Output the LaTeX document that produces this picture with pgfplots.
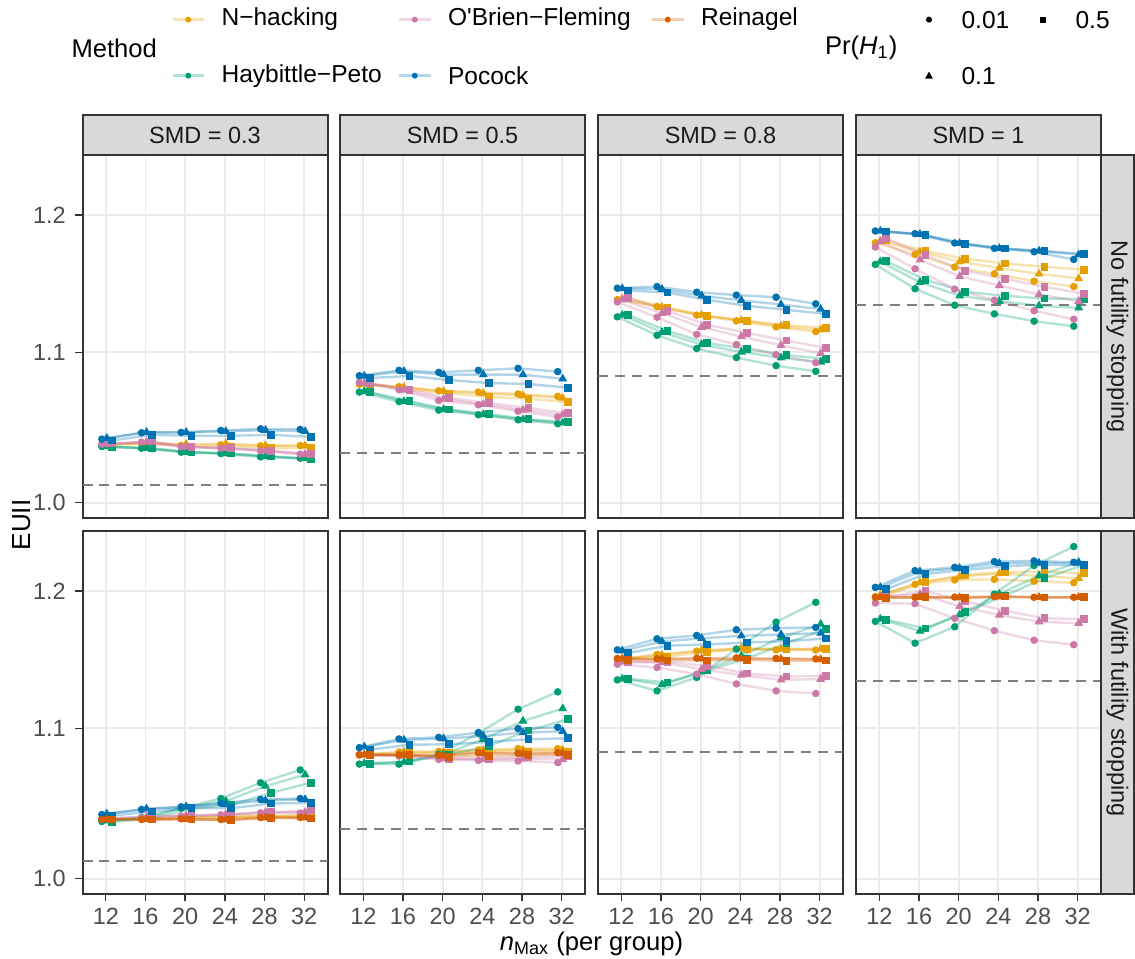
\documentclass[border=0pt]{standalone}
\usepackage{fontspec}
\setmainfont{Liberation Sans}
\usepackage{pgfplots}
\usepackage{pgfplotstable}
\pgfplotsset{compat=1.18}
\definecolor{nh}{HTML}{E69F00}
\definecolor{hp}{HTML}{009E73}
\definecolor{ob}{HTML}{CC79A7}
\definecolor{po}{HTML}{0072B2}
\definecolor{re}{HTML}{D55E00}
\definecolor{gray10}{HTML}{1A1A1A}
\definecolor{gray20}{HTML}{333333}
\definecolor{gray30}{HTML}{4D4D4D}
\definecolor{gray50}{HTML}{7F7F7F}
\definecolor{gray85}{HTML}{D9D9D9}
\definecolor{gray92}{HTML}{EBEBEB}

% ---------------- data: rows = n_Max, columns = method x Pr(H1) (c=0.01, t=0.1, s=0.5)
\pgfplotstableread{
n  NHc    NHt    NHs    HPc    HPt    HPs    OBc    OBt    OBs    POc    POt    POs
12 1.0373 1.0378 1.0373 1.0362 1.0362 1.0360 1.0378 1.0376 1.0382 1.0411 1.0417 1.0402
16 1.0382 1.0380 1.0391 1.0351 1.0351 1.0351 1.0391 1.0393 1.0395 1.0453 1.0457 1.0439
20 1.0369 1.0378 1.0360 1.0325 1.0325 1.0325 1.0360 1.0360 1.0360 1.0455 1.0457 1.0433
24 1.0373 1.0382 1.0360 1.0316 1.0316 1.0316 1.0351 1.0351 1.0351 1.0468 1.0462 1.0433
28 1.0367 1.0369 1.0351 1.0294 1.0297 1.0299 1.0334 1.0334 1.0334 1.0479 1.0470 1.0439
32 1.0369 1.0367 1.0351 1.0286 1.0283 1.0279 1.0312 1.0312 1.0314 1.0475 1.0462 1.0426
}\tA
\pgfplotstableread{
n  NHc    NHt    NHs    HPc    HPt    HPs    OBc    OBt    OBs    POc    POt    POs
12 1.0779 1.0781 1.0781 1.0726 1.0731 1.0726 1.0792 1.0790 1.0788 1.0838 1.0836 1.0822
16 1.0763 1.0758 1.0744 1.0661 1.0663 1.0665 1.0742 1.0740 1.0742 1.0875 1.0868 1.0836
20 1.0735 1.0731 1.0717 1.0604 1.0609 1.0609 1.0669 1.0678 1.0685 1.0861 1.0845 1.0808
24 1.0726 1.0717 1.0694 1.0573 1.0575 1.0577 1.0640 1.0644 1.0651 1.0875 1.0845 1.0788
28 1.0713 1.0703 1.0681 1.0539 1.0541 1.0543 1.0597 1.0604 1.0618 1.0889 1.0845 1.0781
32 1.0697 1.0685 1.0658 1.0513 1.0519 1.0523 1.0559 1.0573 1.0584 1.0866 1.0817 1.0756
}\tB
\pgfplotstableread{
n  NHc    NHt    NHs    HPc    HPt    HPs    OBc    OBt    OBs    POc    POt    POs
12 1.1374 1.1379 1.1386 1.1250 1.1262 1.1264 1.1357 1.1372 1.1386 1.1456 1.1454 1.1439
16 1.1324 1.1319 1.1314 1.1119 1.1140 1.1150 1.1247 1.1276 1.1293 1.1468 1.1449 1.1425
20 1.1262 1.1262 1.1257 1.1026 1.1054 1.1065 1.1126 1.1176 1.1193 1.1427 1.1401 1.1372
24 1.1221 1.1224 1.1221 1.0963 1.1002 1.1023 1.1054 1.1110 1.1136 1.1406 1.1368 1.1329
28 1.1178 1.1185 1.1190 1.0907 1.0961 1.0981 1.0984 1.1049 1.1082 1.1391 1.1338 1.1300
32 1.1145 1.1157 1.1171 1.0868 1.0933 1.0953 1.0928 1.0993 1.1030 1.1343 1.1305 1.1271
}\tC
\pgfplotstableread{
n  NHc    NHt    NHs    HPc    HPt    HPs    OBc    OBt    OBs    POc    POt    POs
12 1.1791 1.1804 1.1808 1.1630 1.1650 1.1655 1.1759 1.1799 1.1824 1.1879 1.1879 1.1875
16 1.1704 1.1724 1.1729 1.1452 1.1500 1.1517 1.1598 1.1664 1.1697 1.1859 1.1854 1.1847
20 1.1610 1.1650 1.1672 1.1333 1.1401 1.1430 1.1449 1.1542 1.1583 1.1789 1.1786 1.1784
24 1.1561 1.1603 1.1637 1.1271 1.1362 1.1401 1.1369 1.1476 1.1525 1.1749 1.1749 1.1747
28 1.1507 1.1561 1.1613 1.1219 1.1329 1.1381 1.1293 1.1410 1.1466 1.1724 1.1729 1.1729
32 1.1468 1.1527 1.1591 1.1183 1.1314 1.1379 1.1233 1.1362 1.1415 1.1667 1.1702 1.1707
}\tD
\pgfplotstableread{
n  NHc    NHt    NHs    HPc    HPt    HPs    OBc    OBt    OBs    POc    POt    POs    REc    REt    REs
12 1.0386 1.0386 1.0382 1.0369 1.0373 1.0364 1.0386 1.0391 1.0386 1.0415 1.0419 1.0408 1.0382 1.0382 1.0382
16 1.0388 1.0388 1.0386 1.0395 1.0393 1.0391 1.0393 1.0400 1.0404 1.0448 1.0453 1.0435 1.0382 1.0382 1.0382
20 1.0397 1.0395 1.0393 1.0457 1.0466 1.0453 1.0404 1.0408 1.0408 1.0466 1.0466 1.0457 1.0386 1.0384 1.0382
24 1.0404 1.0400 1.0397 1.0521 1.0504 1.0479 1.0413 1.0415 1.0415 1.0490 1.0481 1.0457 1.0382 1.0380 1.0378
28 1.0406 1.0404 1.0400 1.0627 1.0604 1.0559 1.0426 1.0430 1.0430 1.0515 1.0508 1.0488 1.0395 1.0393 1.0393
32 1.0408 1.0406 1.0402 1.0713 1.0681 1.0627 1.0424 1.0430 1.0441 1.0521 1.0515 1.0492 1.0395 1.0393 1.0389
}\tE
\pgfplotstableread{
n  NHc    NHt    NHs    HPc    HPt    HPs    OBc    OBt    OBs    POc    POt    POs    REc    REt    REs
12 1.0817 1.0817 1.0817 1.0753 1.0758 1.0756 1.0817 1.0817 1.0813 1.0866 1.0872 1.0852 1.0817 1.0817 1.0817
16 1.0836 1.0836 1.0827 1.0753 1.0767 1.0772 1.0808 1.0813 1.0813 1.0926 1.0919 1.0886 1.0817 1.0815 1.0813
20 1.0840 1.0836 1.0827 1.0820 1.0820 1.0818 1.0785 1.0790 1.0790 1.0937 1.0928 1.0889 1.0813 1.0810 1.0804
24 1.0850 1.0845 1.0836 1.0965 1.0924 1.0877 1.0778 1.0785 1.0790 1.0970 1.0946 1.0905 1.0831 1.0827 1.0808
28 1.0859 1.0850 1.0840 1.1134 1.1051 1.0984 1.0774 1.0790 1.0799 1.0998 1.0970 1.0924 1.0827 1.0822 1.0813
32 1.0859 1.0850 1.0840 1.1257 1.1138 1.1063 1.0763 1.0785 1.0808 1.1007 1.0979 1.0930 1.0831 1.0827 1.0817
}\tF
\pgfplotstableread{
n  NHc    NHt    NHs    HPc    HPt    HPs    OBc    OBt    OBs    POc    POt    POs    REc    REt    REs
12 1.1488 1.1498 1.1498 1.1343 1.1350 1.1350 1.1456 1.1473 1.1473 1.1561 1.1554 1.1537 1.1498 1.1495 1.1488
16 1.1527 1.1522 1.1512 1.1264 1.1309 1.1324 1.1432 1.1468 1.1473 1.1642 1.1622 1.1591 1.1495 1.1493 1.1483
20 1.1551 1.1556 1.1546 1.1360 1.1401 1.1410 1.1384 1.1420 1.1444 1.1667 1.1645 1.1600 1.1500 1.1495 1.1483
24 1.1566 1.1571 1.1566 1.1566 1.1517 1.1498 1.1314 1.1377 1.1389 1.1709 1.1664 1.1615 1.1502 1.1495 1.1488
28 1.1561 1.1566 1.1566 1.1766 1.1650 1.1610 1.1264 1.1343 1.1367 1.1721 1.1674 1.1624 1.1498 1.1493 1.1478
32 1.1559 1.1566 1.1566 1.1914 1.1751 1.1714 1.1245 1.1348 1.1372 1.1726 1.1684 1.1645 1.1495 1.1490 1.1483
}\tG
\pgfplotstableread{
n  NHc    NHt    NHs    HPc    HPt    HPs    OBc    OBt    OBs    POc    POt    POs    REc    REt    REs
12 1.1957 1.1970 1.1965 1.1771 1.1789 1.1784 1.1909 1.1952 1.1957 1.2028 1.2028 1.2013 1.1952 1.1952 1.1947
16 1.2051 1.2066 1.2069 1.1610 1.1699 1.1718 1.1904 1.1977 1.2000 1.2156 1.2148 1.2130 1.1952 1.1952 1.1952
20 1.2084 1.2110 1.2125 1.1731 1.1821 1.1839 1.1794 1.1884 1.1922 1.2182 1.2174 1.2161 1.1954 1.1950 1.1945
24 1.2089 1.2133 1.2144 1.1977 1.1977 1.1965 1.1702 1.1819 1.1851 1.2226 1.2213 1.2192 1.1957 1.1957 1.1959
28 1.2074 1.2115 1.2148 1.2195 1.2118 1.2099 1.1632 1.1769 1.1794 1.2231 1.2215 1.2200 1.1952 1.1952 1.1950
32 1.2063 1.2097 1.2135 1.2343 1.2221 1.2200 1.1598 1.1757 1.1789 1.2221 1.2215 1.2200 1.1952 1.1952 1.1952
}\tH

\pgfplotsset{
  mln/.style={no marks, opacity=0.3, line width=0.9pt},
  panel/.style={scale only axis, width=91.875pt, height=136.125pt, anchor=north west,
    xmin=9.65, xmax=34.35, ymin=0.9903, ymax=1.2465,
    xtick={12,16,20,24,28,32}, ytick={1.0,1.1,1.2},
    xticklabels={}, yticklabels={},
    grid=major, major grid style={draw=gray92, line width=0.7pt},
    axis line style={draw=gray20, line width=0.75pt},
    tick align=outside, major tick length=2.75pt,
    tick style={draw=gray20, line width=0.5pt},
    xtick pos=bottom, ytick pos=left,
    xtick style={draw=none}, ytick style={draw=none},
    ticklabel style={font=\fontsize{8.8}{10}\selectfont, text=gray30},
    xticklabel style={yshift=1pt},
    /pgf/number format/assume math mode=true},
  bottomrow/.style={xticklabels={12,16,20,24,28,32}, xtick style={draw=gray20, line width=0.5pt}},
  leftcol/.style={yticklabels={1.0,1.1,1.2}, ytick style={draw=gray20, line width=0.5pt}},
}
\newcommand{\mline}[3]{%
  \addplot[#3, mln] table[x expr=\thisrow{n}-0.4, y=#2c]{#1};
  \addplot[#3, mln] table[x expr=\thisrow{n}+0.1, y=#2t]{#1};
  \addplot[#3, mln] table[x expr=\thisrow{n}+0.65, y=#2s]{#1};}
\newcommand{\mpts}[3]{%
  \addplot[#3, only marks, mark=*, mark size=1.2pt] table[x expr=\thisrow{n}-0.4, y=#2c]{#1};
  \addplot[#3, only marks, mark=triangle*, mark size=1.55pt] table[x expr=\thisrow{n}+0.1, y=#2t]{#1};
  \addplot[#3, only marks, mark=square*, mark size=1.25pt] table[x expr=\thisrow{n}+0.65, y=#2s]{#1};}
\newcommand{\dashy}[1]{\addplot[gray50, line width=0.75pt, dash pattern=on 3.75pt off 2.6pt] coordinates {(9.65,#1) (34.35,#1)};}
\newcommand{\four}[2]{\dashy{#2}%
  \mline{#1}{NH}{nh}\mline{#1}{HP}{hp}\mline{#1}{OB}{ob}\mline{#1}{PO}{po}%
  \mpts{#1}{NH}{nh}\mpts{#1}{HP}{hp}\mpts{#1}{OB}{ob}\mpts{#1}{PO}{po}}
\newcommand{\five}[2]{\dashy{#2}%
  \mline{#1}{NH}{nh}\mline{#1}{HP}{hp}\mline{#1}{OB}{ob}\mline{#1}{PO}{po}\mline{#1}{RE}{re}%
  \mpts{#1}{NH}{nh}\mpts{#1}{HP}{hp}\mpts{#1}{OB}{ob}\mpts{#1}{PO}{po}\mpts{#1}{RE}{re}}

\begin{document}
\begin{tikzpicture}
\path[use as bounding box] (0,0) rectangle (425.625pt,-359.25pt);

% top row
\begin{axis}[ymode=log, panel, leftcol, at={(82.5*0.375pt,-155*0.375pt)}]
\four{\tA}{1.0115}
\end{axis}
\begin{axis}[ymode=log, panel, at={(340*0.375pt,-155*0.375pt)}]
\four{\tB}{1.032}
\end{axis}
\begin{axis}[ymode=log, panel, at={(598*0.375pt,-155*0.375pt)}]
\four{\tC}{1.0837}
\end{axis}
\begin{axis}[ymode=log, panel, at={(856*0.375pt,-155*0.375pt)}]
\four{\tD}{1.1333}
\end{axis}
% bottom row
\begin{axis}[ymode=log, panel, leftcol, bottomrow, at={(82.5*0.375pt,-531*0.375pt)}]
\five{\tE}{1.0115}
\end{axis}
\begin{axis}[ymode=log, panel, bottomrow, at={(340*0.375pt,-531*0.375pt)}]
\five{\tF}{1.032}
\end{axis}
\begin{axis}[ymode=log, panel, bottomrow, at={(598*0.375pt,-531*0.375pt)}]
\five{\tG}{1.0837}
\end{axis}
\begin{axis}[ymode=log, panel, bottomrow, at={(856*0.375pt,-531*0.375pt)}]
\five{\tH}{1.1333}
\end{axis}

\begin{scope}[x=0.375pt, y=-0.375pt]
  % strips
  \foreach \xl/\lab in {82.5/0.3, 340/0.5, 598/0.8, 856/1} {
    \filldraw[fill=gray85, draw=gray20, line width=0.75pt] (\xl,115) rectangle (\xl+245,155);
    \node[font=\fontsize{8.8}{10}\selectfont, text=gray10] at (\xl+122.5,135) {SMD = \lab};
  }
  \filldraw[fill=gray85, draw=gray20, line width=0.75pt] (1101,155) rectangle (1134,518);
  \filldraw[fill=gray85, draw=gray20, line width=0.75pt] (1101,531) rectangle (1134,894);
  \node[rotate=-90, font=\fontsize{8.8}{10}\selectfont, text=gray10] at (1117.5,336.5) {No futility stopping};
  \node[rotate=-90, font=\fontsize{8.8}{10}\selectfont, text=gray10] at (1117.5,712.5) {With futility stopping};
  % axis titles
  \node[rotate=90, inner sep=0pt, font=\fontsize{9.8}{12}\selectfont] at (22,525) {EUII};
  \node[inner sep=0pt, font=\fontsize{9.6}{12}\selectfont] at (591.5,944) {\textit{n}\textsubscript{Max} (per group)};
  % legend: Method
  \node[anchor=west, inner sep=0pt, font=\fontsize{9.6}{12}\selectfont] at (71,48) {Method};
  \foreach \x/\y/\c/\t in {172.5/19.6/nh/N−hacking, 172.5/75.7/hp/Haybittle−Peto,
      399/19.6/ob/O\textquotesingle Brien−Fleming, 399/75.7/po/Pocock, 652/19.6/re/Reinagel} {
    \draw[\c, opacity=0.3, line width=1.1pt] (\x,\y) -- (\x+31.5,\y);
    \fill[\c] (\x+15.75,\y) circle (3);
    \node[anchor=west, inner sep=0pt, font=\fontsize{9.2}{11}\selectfont] at (\x+48.5,\y) {\t};
  }
  % legend: Pr(H1)
  \node[anchor=west, inner sep=0pt, font=\fontsize{9.6}{12}\selectfont] at (824.5,48) {Pr(\textit{H}\textsubscript{1})};
  \fill (929,19.6) circle (3);
  \fill (1040,16.6) rectangle (1046,22.6);
  \fill (925.2,78.5) -- (932.8,78.5) -- (929,71.5) -- cycle;
  \node[anchor=west, inner sep=0pt, font=\fontsize{9.2}{11}\selectfont] at (961,19.6) {0.01};
  \node[anchor=west, inner sep=0pt, font=\fontsize{9.2}{11}\selectfont] at (1075,19.6) {0.5};
  \node[anchor=west, inner sep=0pt, font=\fontsize{9.2}{11}\selectfont] at (961,75.7) {0.1};
\end{scope}
\end{tikzpicture}
\end{document}
